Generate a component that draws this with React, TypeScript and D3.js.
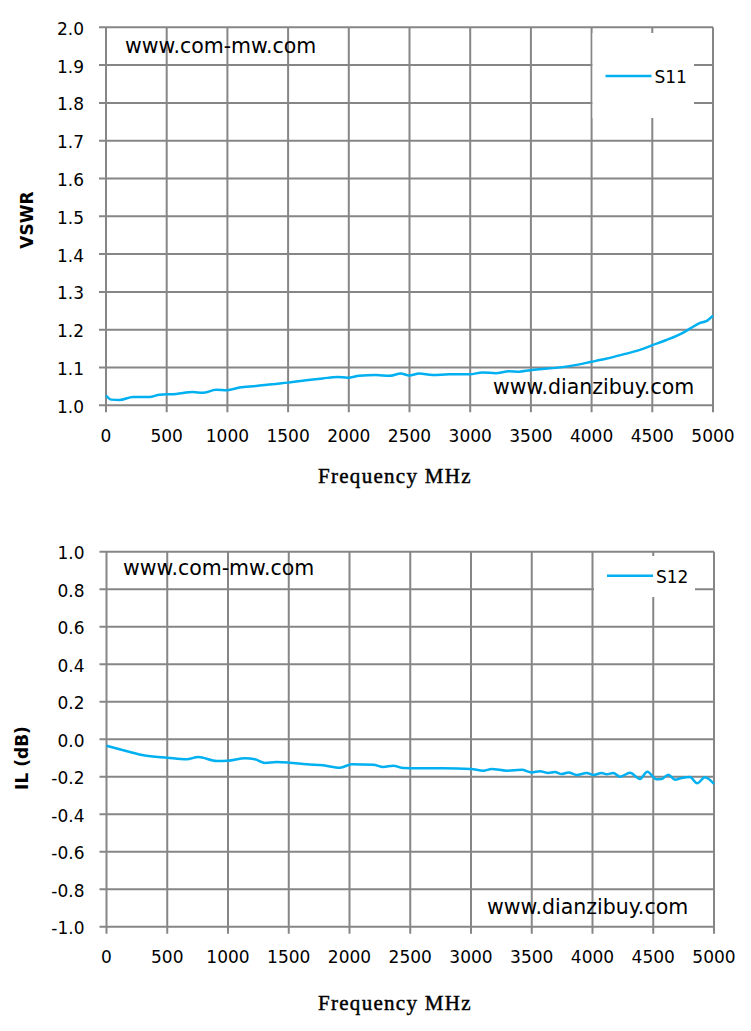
import React from "react";
import { scaleLinear, line, curveMonotoneX } from "d3";

const LINE_COLOR = "#00B0F0";
const GRID_COLOR = "#868686";
const FONT = "'DejaVu Sans', sans-serif";
const TITLE_FONT = "'Liberation Serif', serif";

const freqTicks = [0, 500, 1000, 1500, 2000, 2500, 3000, 3500, 4000, 4500, 5000];
const vswrTicks = [1.0, 1.1, 1.2, 1.3, 1.4, 1.5, 1.6, 1.7, 1.8, 1.9, 2.0];
const ilTicks = [-1.0, -0.8, -0.6, -0.4, -0.2, 0.0, 0.2, 0.4, 0.6, 0.8, 1.0];

const s11Freq = [
    0, 43, 111, 222, 358, 440, 578, 715, 797, 907, 997, 1099, 1236, 1373, 1502, 1648, 1785, 1908, 1990,
    2086, 2224, 2333, 2429, 2498, 2580, 2690, 2827, 2997, 3101, 3210, 3320, 3403, 3494, 3595, 3705, 3842,
    3998, 4117, 4254, 4391, 4501, 4610, 4747, 4816, 4885, 4953, 5000,
];
const s11Vswr = [
    1.026, 1.015, 1.014, 1.022, 1.022, 1.028, 1.03, 1.035, 1.033, 1.041, 1.04, 1.047, 1.051, 1.056, 1.06,
    1.066, 1.071, 1.075, 1.073, 1.078, 1.08, 1.078, 1.084, 1.079, 1.084, 1.08, 1.082, 1.082, 1.087, 1.085,
    1.09, 1.089, 1.093, 1.096, 1.099, 1.105, 1.115, 1.123, 1.134, 1.146, 1.159, 1.172, 1.191, 1.204, 1.217,
    1.224, 1.237,
];

const s12Freq = [
    0, 193, 303, 503, 660, 755, 907, 997, 1140, 1222, 1305, 1400, 1502, 1648, 1782, 1922, 2018, 2196, 2278,
    2360, 2443, 2580, 2772, 3000, 3101, 3170, 3294, 3417, 3500, 3568, 3636, 3691, 3746, 3801, 3870, 3952,
    4007, 4075, 4117, 4171, 4226, 4309, 4391, 4451, 4528, 4569, 4624, 4679, 4734, 4802, 4862, 4925, 5000,
];
const s12Loss = [
    -0.035, -0.068, -0.086, -0.099, -0.107, -0.095, -0.116, -0.115, -0.102, -0.107, -0.127, -0.122, -0.125,
    -0.134, -0.139, -0.152, -0.134, -0.136, -0.148, -0.141, -0.154, -0.155, -0.155, -0.159, -0.168, -0.159,
    -0.168, -0.163, -0.177, -0.171, -0.18, -0.175, -0.186, -0.177, -0.191, -0.18, -0.191, -0.18, -0.187,
    -0.18, -0.2, -0.179, -0.212, -0.173, -0.214, -0.212, -0.189, -0.216, -0.207, -0.202, -0.235, -0.203,
    -0.239,
];

type Box = { x: number; y: number; w: number; h: number };

type ChartProps = {
    left: number;
    right: number;
    top: number;
    bottom: number;
    yTicks: number[];
    freq: number[];
    values: number[];
    yTitle: string;
    yTitleX: number;
    yTitleY: number;
    seriesName: string;
    legendBox: Box;
    legendY: number;
    topMark: [number, number];
    bottomMark: [number, number];
    tickBaseline: number;
    titleBaseline: number;
};

const Chart = (p: ChartProps) => {
    const x = scaleLinear().domain([0, 5000]).range([p.left, p.right]);
    const yMin = p.yTicks[0];
    const yMax = p.yTicks[p.yTicks.length - 1];
    const y = scaleLinear().domain([yMin, yMax]).range([p.bottom, p.top]);
    const pts = p.freq.map((f, i) => [f, p.values[i]] as [number, number]);
    const path = line<[number, number]>()
        .x(d => x(d[0]))
        .y(d => y(d[1]))
        .curve(curveMonotoneX)(pts);
    const lb = p.legendBox;

    return (
        <g>
            {/* grid + outward ticks */}
            {p.yTicks.map(t => (
                <line key={"h" + t} x1={p.left - 7} x2={p.right} y1={y(t)} y2={y(t)} stroke={GRID_COLOR} strokeWidth={2} />
            ))}
            {freqTicks.map(t => (
                <line key={"v" + t} x1={x(t)} x2={x(t)} y1={p.top} y2={p.bottom + 7} stroke={GRID_COLOR} strokeWidth={2} />
            ))}
            {/* legend box covers grid */}
            <rect x={lb.x} y={lb.y} width={lb.w} height={lb.h} fill="#fff" />
            <line x1={lb.x + 13} x2={lb.x + 59} y1={p.legendY} y2={p.legendY} stroke={LINE_COLOR} strokeWidth={2.5} />
            <text x={lb.x + 62} y={p.legendY + 7} fontFamily={FONT} fontSize={17} fill="#000">
                {p.seriesName}
            </text>
            {/* watermarks */}
            <text x={p.topMark[0]} y={p.topMark[1]} fontFamily={FONT} fontSize={20.5} fill="#000">
                www.com-mw.com
            </text>
            <text x={p.bottomMark[0]} y={p.bottomMark[1]} fontFamily={FONT} fontSize={20.5} fill="#000">
                www.dianzibuy.com
            </text>
            {/* series */}
            <path d={path || ""} fill="none" stroke={LINE_COLOR} strokeWidth={2.5} strokeLinejoin="round" />
            {/* tick labels */}
            {p.yTicks.map(t => (
                <text key={"yl" + t} x={p.left - 22} y={y(t) + 7.5} textAnchor="end" fontFamily={FONT} fontSize={17} fill="#000">
                    {t.toFixed(1)}
                </text>
            ))}
            {freqTicks.map(t => (
                <text key={"xl" + t} x={x(t)} y={p.tickBaseline} textAnchor="middle" fontFamily={FONT} fontSize={17} fill="#000">
                    {t}
                </text>
            ))}
            {/* axis titles */}
            <text
                transform={`translate(${p.yTitleX},${p.yTitleY}) rotate(-90)`}
                textAnchor="middle"
                fontFamily={FONT}
                fontWeight="bold"
                fontSize={17}
                fill="#000"
            >
                {p.yTitle}
            </text>
            <text
                x={318}
                y={p.titleBaseline}
                fontFamily={TITLE_FONT}
                fontSize={21}
                letterSpacing={1.5}
                textLength={154}
                lengthAdjust="spacing"
                fill="#000"
                stroke="#000"
                strokeWidth={0.45}
            >
                Frequency MHz
            </text>
        </g>
    );
};

export default function App() {
    return (
        <svg
            width={751}
            height={1031}
            style={{ position: "absolute", left: 0, top: 0, background: "#fff" }}
        >
            <rect width={751} height={1031} fill="#fff" />
            <Chart
                left={106}
                right={713}
                top={27.3}
                bottom={405.3}
                yTicks={vswrTicks}
                freq={s11Freq}
                values={s11Vswr}
                yTitle="VSWR"
                yTitleX={33}
                yTitleY={220}
                seriesName="S11"
                legendBox={{ x: 592.5, y: 33, w: 101.5, h: 85 }}
                legendY={76}
                topMark={[125, 53]}
                bottomMark={[493, 394]}
                tickBaseline={442}
                titleBaseline={483}
            />
            <Chart
                left={106.5}
                right={714}
                top={551.7}
                bottom={926.7}
                yTicks={ilTicks}
                freq={s12Freq}
                values={s12Loss}
                yTitle="IL (dB)"
                yTitleX={28}
                yTitleY={758}
                seriesName="S12"
                legendBox={{ x: 594, y: 556, w: 101, h: 41 }}
                legendY={575.7}
                topMark={[123, 575]}
                bottomMark={[487, 914]}
                tickBaseline={963}
                titleBaseline={1010}
            />
        </svg>
    );
}
